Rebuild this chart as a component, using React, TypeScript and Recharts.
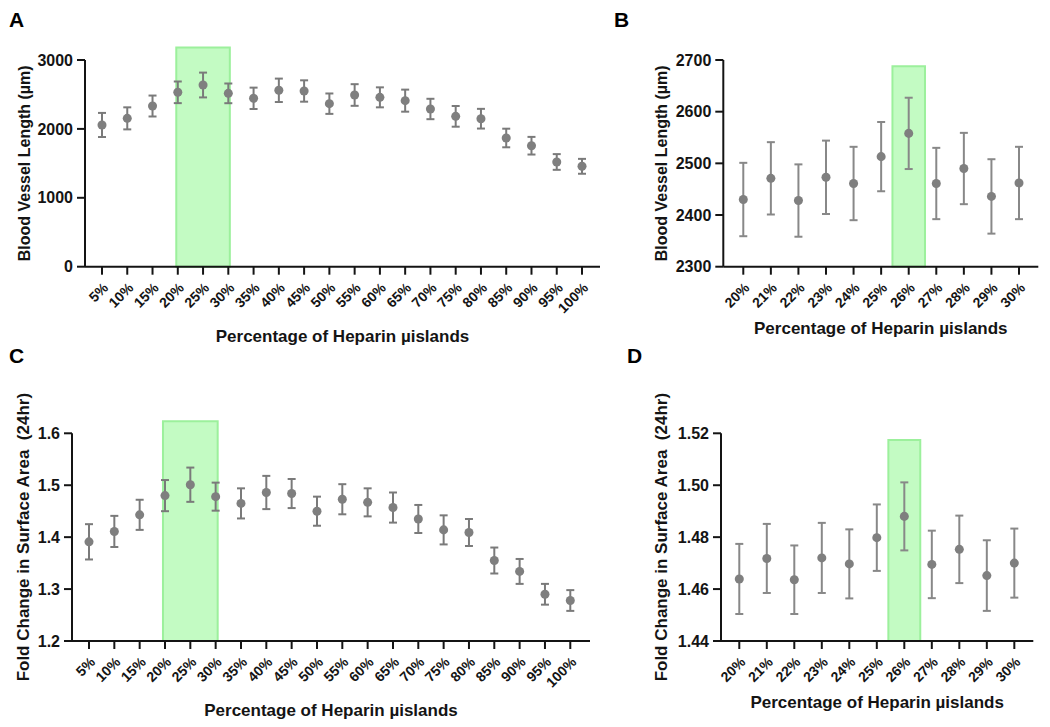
import React from 'react';
import { ScatterChart, Scatter, XAxis, YAxis, ErrorBar, ReferenceArea } from 'recharts';

// heparin µisland percentages
const LEVELS_COARSE = [5, 10, 15, 20, 25, 30, 35, 40, 45, 50, 55, 60, 65, 70, 75, 80, 85, 90, 95, 100];
const LEVELS_FINE = [20, 21, 22, 23, 24, 25, 26, 27, 28, 29, 30];

// A: blood vessel length, coarse sweep (mean, sem)
const LENGTH_COARSE = [2057, 2153, 2332, 2531, 2637, 2516, 2444, 2560, 2550, 2366, 2492, 2458, 2410, 2289, 2182, 2148, 1868, 1756, 1520, 1457];
const LENGTH_COARSE_ERR = [175, 160, 152, 157, 180, 143, 155, 170, 155, 148, 157, 145, 160, 148, 150, 143, 135, 128, 114, 108];

// B: blood vessel length, fine sweep
const LENGTH_FINE = [2430, 2471, 2428, 2473, 2461, 2513, 2558, 2461, 2490, 2436, 2462];
const LENGTH_FINE_ERR = [71, 70, 70, 71, 71, 67, 69, 69, 69, 72, 70];

// C: fold change in surface area (24hr), coarse sweep
const FOLD_COARSE = [1.391, 1.411, 1.443, 1.48, 1.501, 1.478, 1.465, 1.486, 1.484, 1.45, 1.473, 1.467, 1.457, 1.435, 1.414, 1.409, 1.355, 1.334, 1.29, 1.278];
const FOLD_COARSE_ERR = [0.034, 0.03, 0.029, 0.03, 0.033, 0.027, 0.029, 0.032, 0.028, 0.028, 0.029, 0.027, 0.029, 0.027, 0.028, 0.026, 0.025, 0.024, 0.02, 0.02];

// D: fold change in surface area (24hr), fine sweep
const FOLD_FINE = [1.4639, 1.4718, 1.4636, 1.472, 1.4697, 1.4798, 1.488, 1.4695, 1.4753, 1.4652, 1.47];
const FOLD_FINE_ERR = [0.0135, 0.0133, 0.0132, 0.0135, 0.0133, 0.0128, 0.0131, 0.013, 0.013, 0.0136, 0.0133];

const TICKS_LENGTH_COARSE = [0, 1000, 2000, 3000];
const TICKS_LENGTH_FINE = [2300, 2400, 2500, 2600, 2700];
const TICKS_FOLD_COARSE = [1.2, 1.3, 1.4, 1.5, 1.6];
const TICKS_FOLD_FINE = [1.44, 1.46, 1.48, 1.5, 1.52];

const X_TITLE = 'Percentage of Heparin µislands';
const Y_TITLE_LENGTH = 'Blood Vessel Length (µm)';
const Y_TITLE_FOLD = 'Fold Change in Surface Area  (24hr)';

const FONT = '"Liberation Sans", Arial, sans-serif';
const INK = '#141414';

interface Box {
  x1: number;
  x2: number;
  y1: number;
  y2: number;
}

interface PanelProps {
  left: number;
  top: number;
  width: number;
  height: number;
  margin: { top: number; right: number; bottom: number; left: number };
  yAxisWidth: number;
  xAxisHeight: number;
  levels: number[];
  means: number[];
  errs: number[];
  xDomain: [number, number];
  yDomain: [number, number];
  yTicks: number[];
  yDigits: number;
  yTitle: string;
  yTitleX: number;
  yTitleSize: number;
  box: Box;
  barColor: string;
}

const makeYLabel = (text: string, cx: number, size: number) => (props: any) => {
  const vb = props.viewBox || {};
  const cy = vb.y + vb.height / 2;
  return (
    <text
      x={cx}
      y={cy}
      transform={`rotate(-90 ${cx} ${cy})`}
      textAnchor="middle"
      dominantBaseline="central"
      fontFamily={FONT}
      fontWeight="bold"
      fontSize={size}
      fill={INK}
      style={{ whiteSpace: 'pre' }}
    >
      {text}
    </text>
  );
};

const makeXLabel = (text: string) => (props: any) => {
  const vb = props.viewBox || {};
  return (
    <text
      x={vb.x + vb.width / 2}
      y={vb.y + vb.height}
      textAnchor="middle"
      fontFamily={FONT}
      fontWeight="bold"
      fontSize={17}
      fill={INK}
    >
      {text}
    </text>
  );
};

const Panel: React.FC<PanelProps> = (p) => {
  const data = p.levels.map((x, i) => ({ x, y: p.means[i], err: p.errs[i] }));
  return (
    <div style={{ position: 'absolute', left: p.left, top: p.top }}>
      <ScatterChart width={p.width} height={p.height} margin={p.margin}>
        <ReferenceArea
          x1={p.box.x1}
          x2={p.box.x2}
          y1={p.box.y1}
          y2={p.box.y2}
          fill="#c3fbc3"
          fillOpacity={1}
          stroke="#9cf09c"
          strokeWidth={2}
          ifOverflow="visible"
        />
        <XAxis
          type="number"
          dataKey="x"
          domain={p.xDomain}
          ticks={p.levels}
          interval={0}
          allowDataOverflow
          height={p.xAxisHeight}
          tickFormatter={(v: number) => `${v}%`}
          angle={-45}
          textAnchor="end"
          tickSize={8}
          tickMargin={7}
          axisLine={{ stroke: INK, strokeWidth: 2 }}
          tickLine={{ stroke: INK, strokeWidth: 2 }}
          tick={{ fontFamily: FONT, fontWeight: 'bold', fontSize: 14, fill: INK }}
          label={{ content: makeXLabel(X_TITLE) }}
        />
        <YAxis
          type="number"
          dataKey="y"
          domain={p.yDomain}
          ticks={p.yTicks}
          interval={0}
          allowDataOverflow
          width={p.yAxisWidth}
          tickFormatter={(v: number) => v.toFixed(p.yDigits)}
          tickSize={8}
          tickMargin={4}
          axisLine={{ stroke: INK, strokeWidth: 2 }}
          tickLine={{ stroke: INK, strokeWidth: 2 }}
          tick={{ fontFamily: FONT, fontWeight: 'bold', fontSize: 16, fill: INK }}
          label={{ content: makeYLabel(p.yTitle, p.yTitleX, p.yTitleSize) }}
        />
        <Scatter data={data} fill="#7f7f7f" isAnimationActive={false}>
          <ErrorBar dataKey="err" direction="y" width={4} stroke={p.barColor} strokeWidth={2} />
        </Scatter>
      </ScatterChart>
    </div>
  );
};

const letterStyle = (left: number, top: number): React.CSSProperties => ({
  position: 'absolute',
  left,
  top,
  fontFamily: FONT,
  fontWeight: 'bold',
  fontSize: 21,
  lineHeight: '21px',
  color: '#000',
});

export default function App() {
  return (
    <div
      style={{
        position: 'fixed',
        left: 0,
        top: 0,
        width: 1050,
        height: 727,
        background: '#fff',
        overflow: 'hidden',
      }}
    >
      <Panel
        left={0}
        top={0}
        width={620}
        height={360}
        margin={{ top: 60, right: 20, bottom: 18, left: 0 }}
        yAxisWidth={85}
        xAxisHeight={75.3}
        levels={LEVELS_COARSE}
        means={LENGTH_COARSE}
        errs={LENGTH_COARSE_ERR}
        xDomain={[1.636, 103.56]}
        yDomain={[0, 3000]}
        yTicks={TICKS_LENGTH_COARSE}
        yDigits={0}
        yTitle={Y_TITLE_LENGTH}
        yTitleX={25}
        yTitleSize={16}
        box={{ x1: 19.7, x2: 30.3, y1: 0, y2: 3180 }}
        barColor="#7a7a7a"
      />
      <Panel
        left={620}
        top={0}
        width={430}
        height={360}
        margin={{ top: 60, right: 11.7, bottom: 26, left: 0 }}
        yAxisWidth={103.3}
        xAxisHeight={67.3}
        levels={LEVELS_FINE}
        means={LENGTH_FINE}
        errs={LENGTH_FINE_ERR}
        xDomain={[19.275, 30.7]}
        yDomain={[2300, 2700]}
        yTicks={TICKS_LENGTH_FINE}
        yDigits={0}
        yTitle={Y_TITLE_LENGTH}
        yTitleX={42}
        yTitleSize={16}
        box={{ x1: 25.41, x2: 26.59, y1: 2300, y2: 2688 }}
        barColor="#888888"
      />
      <Panel
        left={0}
        top={360}
        width={620}
        height={367}
        margin={{ top: 73.3, right: 30, bottom: 11, left: 0 }}
        yAxisWidth={72}
        xAxisHeight={75}
        levels={LEVELS_COARSE}
        means={FOLD_COARSE}
        errs={FOLD_COARSE_ERR}
        xDomain={[1.644, 103.89]}
        yDomain={[1.2, 1.6]}
        yTicks={TICKS_FOLD_COARSE}
        yDigits={1}
        yTitle={Y_TITLE_FOLD}
        yTitleX={24}
        yTitleSize={17}
        box={{ x1: 19.6, x2: 30.4, y1: 1.2, y2: 1.623 }}
        barColor="#7a7a7a"
      />
      <Panel
        left={620}
        top={360}
        width={430}
        height={367}
        margin={{ top: 73.3, right: 16.7, bottom: 19, left: 0 }}
        yAxisWidth={101}
        xAxisHeight={67}
        levels={LEVELS_FINE}
        means={FOLD_FINE}
        errs={FOLD_FINE_ERR}
        xDomain={[19.335, 30.69]}
        yDomain={[1.44, 1.52]}
        yTicks={TICKS_FOLD_FINE}
        yDigits={2}
        yTitle={Y_TITLE_FOLD}
        yTitleX={42}
        yTitleSize={17}
        box={{ x1: 25.42, x2: 26.58, y1: 1.44, y2: 1.5174 }}
        barColor="#888888"
      />
      <div style={letterStyle(9, 9)}>A</div>
      <div style={letterStyle(614, 9)}>B</div>
      <div style={letterStyle(9, 345)}>C</div>
      <div style={letterStyle(627, 345)}>D</div>
    </div>
  );
}
